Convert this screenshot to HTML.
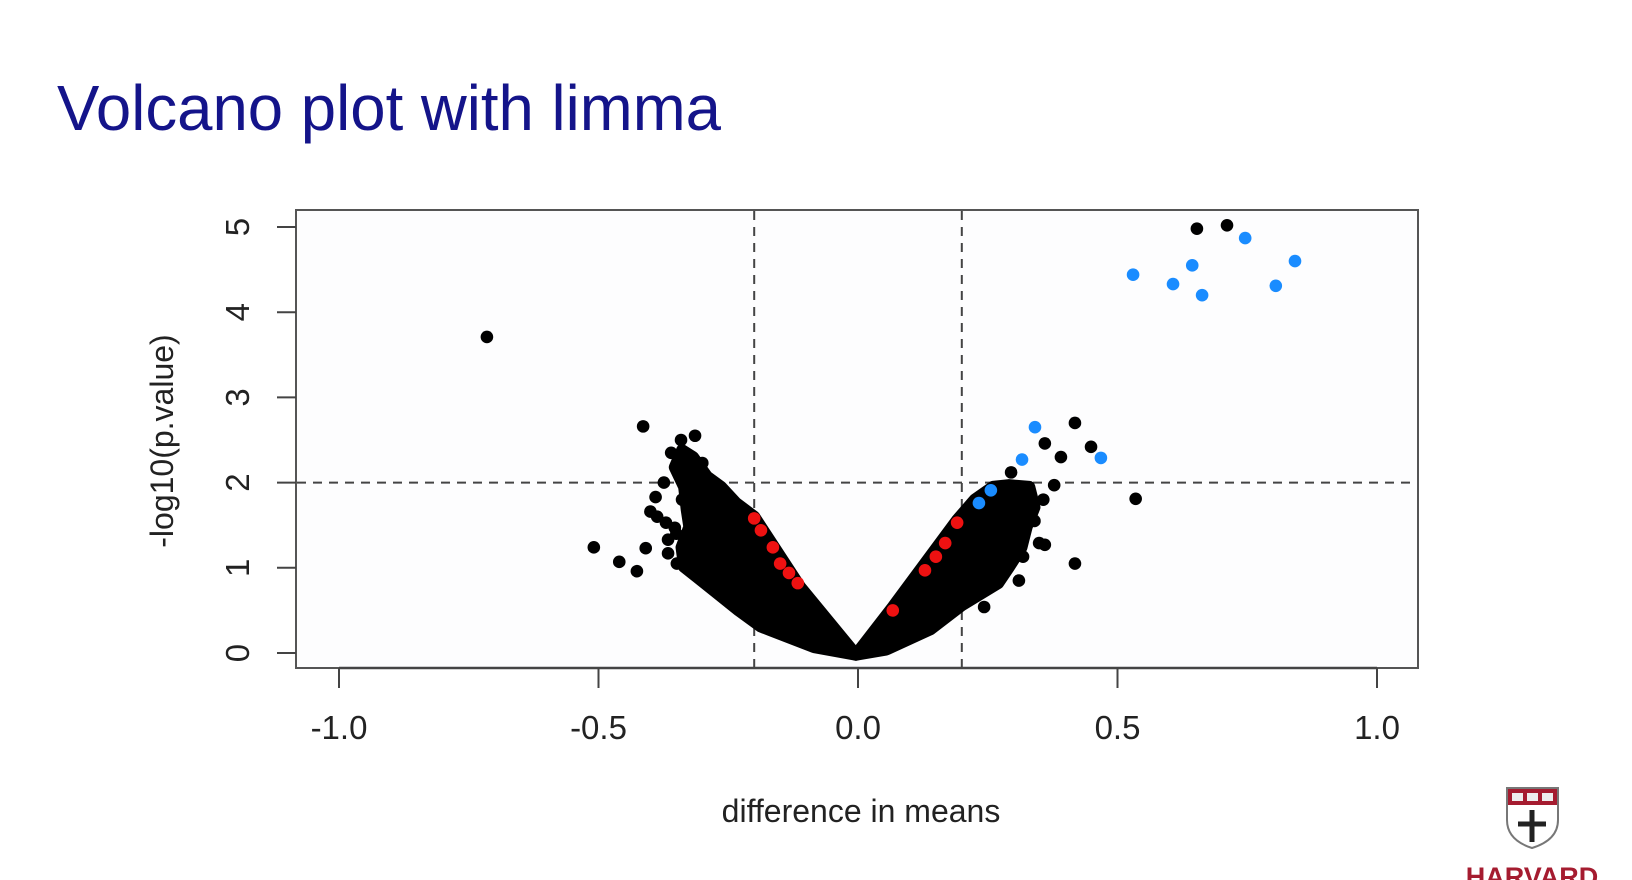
<!DOCTYPE html>
<html><head><meta charset="utf-8"><style>
html,body{margin:0;padding:0;background:#fff;}
svg{display:block;font-family:"Liberation Sans",Arial,sans-serif;}
</style></head><body>
<svg id="chart" width="1632" height="880" viewBox="0 0 1632 880">
<text x="57" y="130" font-size="64" fill="#14148a" textLength="664" lengthAdjust="spacingAndGlyphs">Volcano plot with limma</text>
<rect x="296" y="210" width="1122" height="458" fill="#fdfdfe" stroke="#555" stroke-width="2"/>
<g id="grid"></g>
<g id="cloud"></g>
<g id="pts"></g>
<g id="axes"></g>
<text x="162" y="441" font-size="32" fill="#222" text-anchor="middle" transform="rotate(-90 162 441)" dy="11">-log10(p.value)</text>
<text x="861" y="822" font-size="32" fill="#222" text-anchor="middle">difference in means</text>
<g>
<path d="M1507 788 H1558 V820 Q1558 840 1532 848 Q1507 840 1507 820 Z" fill="#fff" stroke="#777" stroke-width="2"/>
<rect x="1508" y="789" width="49" height="16" fill="#a51c30"/>
<rect x="1512" y="793" width="11" height="8" fill="#eee"/><rect x="1527" y="793" width="11" height="8" fill="#eee"/><rect x="1542" y="793" width="11" height="8" fill="#eee"/>
<path d="M1532 810 V842 M1518 824 H1546" stroke="#222" stroke-width="5"/>
<text x="1532" y="886" font-size="27" font-weight="bold" fill="#a51c30" text-anchor="middle">HARVARD</text>
</g>
</svg>
<script>
const xTicks=[-1.0,-0.5,0.0,0.5,1.0];
const xTickLabels=["-1.0","-0.5","0.0","0.5","1.0"];
const yTicks=[0,1,2,3,4,5];
const yTickLabels=["0","1","2","3","4","5"];
const vCut=[-0.2,0.2];
const hCut=[2];
// dense cloud envelope (difference, -log10 p)
const leftCloudX=[-0.004,-0.085,-0.187,-0.23,-0.275,-0.31,-0.335,-0.34,-0.325,-0.33,-0.335,-0.353,-0.339,-0.318,-0.291,-0.264,-0.235,-0.20,-0.112];
const leftCloudY=[-0.02,0.07,0.31,0.50,0.72,0.89,1.01,1.24,1.48,1.68,1.95,2.18,2.38,2.30,2.07,1.95,1.76,1.60,0.78];
const rightCloudX=[-0.004,0.067,0.191,0.225,0.26,0.29,0.33,0.34,0.325,0.315,0.29,0.27,0.20,0.14,0.054];
const rightCloudY=[-0.02,0.54,1.56,1.80,1.95,1.97,1.95,1.71,1.48,1.24,1.0,0.82,0.56,0.28,0.04];
// individual black points
const blackX=[-0.715,-0.414,-0.46,-0.426,-0.409,-0.509,-0.314,-0.341,-0.36,-0.374,-0.40,-0.366,-0.349,-0.30,-0.39,-0.387,-0.37,-0.353,-0.366,-0.339,-0.326,-0.312,-0.35,-0.33,-0.32,0.653,0.711,0.418,0.36,0.391,0.449,0.535,0.418,0.243,0.295,0.378,0.322,0.357,0.349,0.36,0.318,0.34,0.33,0.31,0.30];
const blackY=[3.71,2.66,1.07,0.96,1.23,1.24,2.55,2.50,2.35,2.0,1.66,1.17,1.05,2.23,1.83,1.60,1.53,1.47,1.33,1.80,1.17,1.09,1.40,1.30,0.95,4.98,5.02,2.70,2.46,2.30,2.42,1.81,1.05,0.54,2.12,1.97,1.93,1.80,1.29,1.27,1.13,1.55,1.65,0.85,1.75];
const blueX=[0.746,0.644,0.530,0.607,0.663,0.805,0.842,0.341,0.316,0.256,0.233,0.468];
const blueY=[4.87,4.55,4.44,4.33,4.20,4.31,4.60,2.65,2.27,1.91,1.76,2.29];
const redX=[-0.20,-0.187,-0.164,-0.15,-0.133,-0.116,0.191,0.168,0.15,0.129,0.067];
const redY=[1.58,1.44,1.24,1.05,0.94,0.82,1.53,1.29,1.13,0.97,0.50];

const NS="http://www.w3.org/2000/svg";
const sx=v=>858+519*v;
const sy=v=>653-85.2*v;
function mk(tag,attrs,parent){const e=document.createElementNS(NS,tag);for(const k in attrs)e.setAttribute(k,attrs[k]);document.getElementById(parent).appendChild(e);return e;}

vCut.forEach(v=>{const l=mk('line',{x1:sx(v),x2:sx(v),y1:211,y2:667,stroke:'#444','stroke-width':2,'stroke-dasharray':'9 7'},'grid');

});
hCut.forEach(v=>{const l=mk('line',{x1:297,x2:1417,y1:sy(v),y2:sy(v),stroke:'#444','stroke-width':2,'stroke-dasharray':'9 7'},'grid');

});

function cloud(xs,ys,name){const d=xs.map((x,i)=>(i?'L':'M')+sx(x)+' '+sy(ys[i])).join(' ')+'Z';
const p=mk('path',{d:d,fill:'#000',stroke:'#000','stroke-width':12,'stroke-linejoin':'round'},'cloud');

}
cloud(leftCloudX,leftCloudY,'left-point-cloud');
cloud(rightCloudX,rightCloudY,'right-point-cloud');

function dots(xs,ys,col,name){xs.forEach((x,i)=>{const c=mk('circle',{cx:sx(x),cy:sy(ys[i]),r:6.3,fill:col},'pts');

});}
dots(blackX,blackY,'#000','gene-point');
dots(redX,redY,'#ee1111','red-gene-point');
dots(blueX,blueY,'#1a8cff','significant-gene-point');

const ax=mk('line',{x1:sx(xTicks[0]),x2:sx(xTicks[xTicks.length-1]),y1:668,y2:668,stroke:'#444','stroke-width':2.5},'axes');


xTicks.forEach((v,i)=>{const t=mk('line',{x1:sx(v),x2:sx(v),y1:668,y2:688,stroke:'#444','stroke-width':2},'axes');


const tx=mk('text',{x:sx(v),y:739,'font-size':33,fill:'#222','text-anchor':'middle'},'axes');tx.textContent=xTickLabels[i];

});
yTicks.forEach((v,i)=>{const t=mk('line',{x1:277,x2:296,y1:sy(v),y2:sy(v),stroke:'#444','stroke-width':2},'axes');


const tx=mk('text',{x:237,y:sy(v),'font-size':33,fill:'#222','text-anchor':'middle',dy:12,transform:'rotate(-90 237 '+sy(v)+')'},'axes');tx.textContent=yTickLabels[i];

});
</script>
</body></html>
